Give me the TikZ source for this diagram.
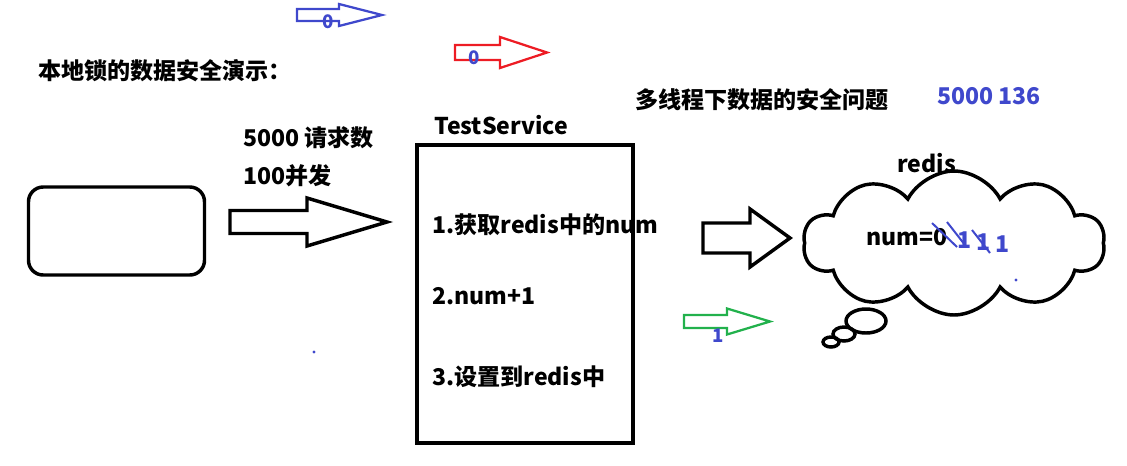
\documentclass[tikz,border=0pt]{standalone}
\usepackage{fontspec}
\setmainfont{Noto Sans CJK SC}
\usetikzlibrary{shapes.symbols}
\definecolor{paintblue}{RGB}{63,72,204}
\definecolor{paintred}{RGB}{237,28,36}
\definecolor{paintgreen}{RGB}{34,177,76}

\tikzset{
  lbl/.style={font=\fontsize{17.3}{20}\selectfont\bfseries,anchor=west,inner sep=0pt},
  bluelbl/.style={lbl,text=paintblue},
  smallnum/.style={font=\fontsize{14}{16}\selectfont\bfseries,text=paintblue,inner sep=0pt},
  heavy/.style={draw,line width=2.6pt},
}

\begin{document}
\begin{tikzpicture}[x=0.75pt,y=-0.75pt]
  \useasboundingbox (0,0) rectangle (1127,465);
  % client and service
  \node[heavy,rounded corners=11pt,minimum width=132pt,minimum height=66pt] (client) at (116.5,231) {};
  \node[heavy,minimum width=162pt,minimum height=223.5pt] (service) at (525,294) {};
  % block arrows
  \foreach \xa/\xh/\xt/\yc/\s/\h/\col/\lw in {230/307/387/222/11.5/24/black/2.6pt,
      703/750/790/238/15/29/black/2.6pt,
      297/339/382/15/6/11/paintblue/1.7pt,
      455/500/547/52.5/7.5/15.5/paintred/1.7pt,
      684/727/770/321.5/6.5/13/paintgreen/1.7pt}{
    \draw[\col,line width=\lw,line join=miter] (\xa,\yc-\s) -- (\xh,\yc-\s) -- (\xh,\yc-\h)
      -- (\xt,\yc) -- (\xh,\yc+\h) -- (\xh,\yc+\s) -- (\xa,\yc+\s) -- cycle;
  }
  \node[smallnum] (zeroa) at (328,22) {0};
  \node[smallnum] (zerob) at (474,58) {0};
  \node[smallnum] (onea) at (718,336) {1};
  % redis cloud
  \node[cloud,draw,line width=2.6pt,cloud puffs=10,cloud puff arc=125,cloud ignores aspect,
        minimum width=226pt,minimum height=108pt] (redis) at (954,243) {};
  \draw[line width=2.6pt] (866,321) ellipse (20 and 12);
  \draw[line width=2.6pt] (844,334) ellipse (11 and 7);
  \draw[line width=2.6pt] (831,342) ellipse (8 and 5);
  % texts
  \node[lbl] (title) at (38,71) {本地锁的数据安全演示：};
  \node[lbl] (reqs) at (243,138) {5000 请求数};
  \node[lbl] (conc) at (243,176) {100并发};
  \node[lbl] (svcname) at (434,125) {TestService};
  \node[lbl] (stepa) at (432,225) {1.获取redis中的num};
  \node[lbl] (stepb) at (432,296) {2.num+1};
  \node[lbl] (stepc) at (432,377) {3.设置到redis中};
  \node[lbl] (issue) at (635,100) {多线程下数据的安全问题};
  \node[bluelbl] (counts) at (937,96) {5000 136};
  \node[lbl] (redisname) at (897,163) {redis};
  \node[lbl] (numval) at (866,237) {num=0};
  \node[bluelbl] (numb) at (957,240) {1};
  \node[bluelbl] (numc) at (976,242) {1};
  \node[bluelbl] (numd) at (995,244) {1};
  \draw[paintblue,line width=1.5pt] (932,223) -- (957,247);
  \draw[paintblue,line width=1.5pt] (947,222) -- (965,245);
  \draw[paintblue,line width=1.5pt] (972,230) -- (990,253);
  \fill[paintblue] (314,352) circle (1.6);
  \fill[paintblue] (1016,280) circle (1.6);
\end{tikzpicture}
\end{document}
